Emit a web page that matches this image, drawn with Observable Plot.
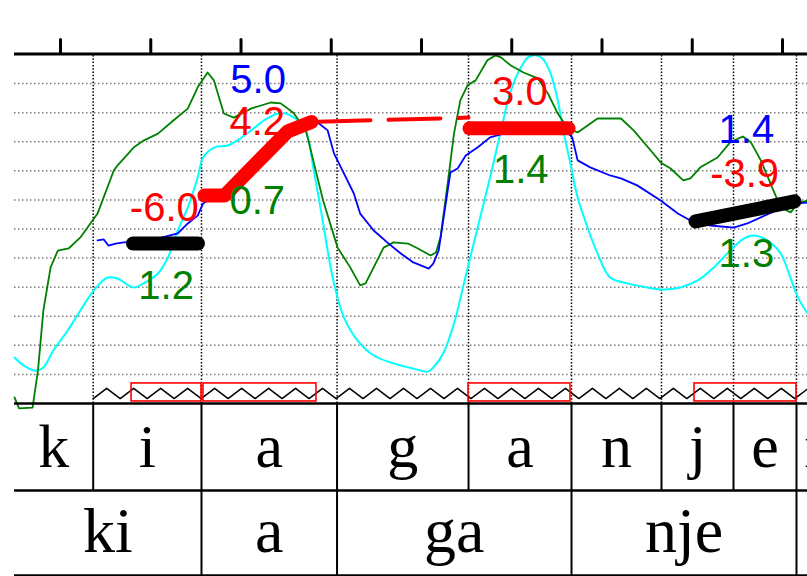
<!DOCTYPE html>
<html>
<head>
<meta charset="utf-8">
<script src="https://cdn.jsdelivr.net/npm/d3@7"></script>
<script src="https://cdn.jsdelivr.net/npm/@observablehq/plot@0.6"></script>
<style>
  html, body { margin: 0; padding: 0; background: #fff; }
  #chart svg { display: block; }
</style>
</head>
<body>
<div id="chart"></div>
<script>
// ---------- DATA (time in seconds, pitch on a 0–12 grid scale) ----------
const viewWindow = [0.049, 0.9277];
const axisTicks = [0.1, 0.2, 0.3, 0.4, 0.5, 0.6, 0.7, 0.8, 0.9];
const gridLevels = [1, 2, 3, 4, 5, 6, 7, 8, 9, 10, 11];

// segmentation tiers
const phoneLabels = ["k", "i", "a", "g", "a", "n", "j", "e", "n"];
const phoneBounds = [0.049, 0.1362, 0.2562, 0.4064, 0.5521, 0.6662, 0.7659, 0.8457, 0.9155, 0.967];
const syllableLabels = ["ki", "a", "ga", "nje"];
const syllableBounds = [0.049, 0.2562, 0.4064, 0.6662, 0.9155];

// curves [time, value]
const curveBlue = [
  [0.141,5.61],[0.148,5.64],[0.153,5.43],[0.161,5.50],[0.170,5.54],[0.200,5.61],[0.230,5.85],[0.241,6.19],
  [0.252,6.46],[0.258,6.88],[0.272,7.15],[0.288,7.39],[0.311,8.18],[0.333,8.87],[0.355,9.39],[0.371,9.59],
  [0.385,9.66],[0.396,9.39],[0.403,8.60],[0.414,7.91],[0.425,7.22],[0.432,6.53],[0.447,5.95],[0.462,5.54],
  [0.477,5.16],[0.491,4.85],[0.508,4.64],[0.513,4.81],[0.519,5.26],[0.529,7.32],[0.532,7.94],[0.540,8.08],
  [0.549,8.53],[0.562,8.80],[0.576,9.15],[0.599,9.35],[0.632,9.46],[0.659,9.39],[0.667,9.15],[0.673,8.36],
  [0.687,8.12],[0.709,7.84],[0.721,7.74],[0.739,7.50],[0.765,6.98],[0.784,6.53],[0.798,6.29],[0.820,6.12],
  [0.846,6.05],[0.861,6.19],[0.876,6.40],[0.898,6.71],[0.917,6.88],[0.928,6.91]
];
const curveGreen = [
  [0.049,0.21],[0.054,-0.17],[0.069,-0.14],[0.075,1.13],[0.081,3.20],[0.089,4.68],[0.097,5.26],[0.109,5.33],
  [0.122,5.71],[0.141,6.53],[0.159,8.01],[0.163,8.18],[0.181,8.80],[0.192,9.04],[0.208,9.28],[0.225,9.73],
  [0.241,10.14],[0.252,10.87],[0.263,11.38],[0.270,11.11],[0.281,9.97],[0.292,9.83],[0.311,10.14],[0.333,10.35],
  [0.344,10.32],[0.358,10.00],[0.372,9.39],[0.380,8.36],[0.391,6.98],[0.407,5.36],[0.421,4.68],[0.432,4.06],
  [0.438,4.13],[0.447,4.68],[0.458,5.36],[0.469,5.54],[0.485,5.50],[0.496,5.33],[0.510,5.09],[0.516,5.19],
  [0.521,5.71],[0.529,7.57],[0.536,9.28],[0.543,10.42],[0.551,10.94],[0.560,11.11],[0.573,11.80],[0.582,11.97],
  [0.588,11.90],[0.599,11.62],[0.613,11.38],[0.629,11.18],[0.640,10.66],[0.651,9.97],[0.662,9.46],[0.673,9.32],
  [0.684,9.56],[0.695,9.80],[0.721,9.80],[0.735,9.39],[0.754,8.70],[0.765,8.29],[0.776,8.08],[0.790,7.67],
  [0.798,7.74],[0.809,8.12],[0.828,8.46],[0.842,8.98],[0.856,9.18],[0.865,8.98],[0.876,8.36],[0.890,7.32],
  [0.898,6.74],[0.909,6.57],[0.917,6.88],[0.928,6.98]
];
const curveCyan = [
  [0.049,1.58],[0.059,1.31],[0.072,1.13],[0.081,1.24],[0.092,1.82],[0.108,2.51],[0.122,3.20],[0.137,3.89],
  [0.152,4.33],[0.163,4.30],[0.181,3.99],[0.192,4.13],[0.208,4.47],[0.219,5.02],[0.230,5.95],[0.241,6.74],
  [0.252,7.77],[0.258,8.46],[0.270,8.80],[0.285,8.87],[0.299,9.11],[0.314,9.46],[0.329,9.80],[0.344,10.00],
  [0.355,9.90],[0.366,9.63],[0.374,9.15],[0.380,8.12],[0.388,6.74],[0.396,5.26],[0.403,4.13],[0.414,2.96],
  [0.429,2.17],[0.447,1.65],[0.469,1.38],[0.491,1.20],[0.507,1.10],[0.513,1.24],[0.524,1.72],[0.536,2.75],
  [0.547,4.13],[0.554,5.02],[0.565,6.40],[0.576,7.77],[0.588,9.39],[0.599,10.76],[0.610,11.55],[0.618,11.90],
  [0.626,11.97],[0.634,11.86],[0.643,11.35],[0.651,10.42],[0.657,9.39],[0.665,8.25],[0.673,7.08],[0.684,6.05],
  [0.695,5.16],[0.709,4.33],[0.728,4.13],[0.750,3.99],[0.768,3.92],[0.787,3.99],[0.806,4.23],[0.824,4.68],
  [0.842,5.26],[0.857,5.67],[0.868,5.78],[0.883,5.61],[0.898,5.16],[0.906,4.57],[0.917,3.65],[0.928,3.09]
];

// pitch targets (thick segments) and the interpolation between them
const targetSpans = [[0.1787, 0.2562], [0.2584, 0.3836], [0.5521, 0.6651], [0.8025, 0.9155]];
const targetKinds = ["black", "red", "red", "black"];
const targetLines = [
  [[0.1803, 5.50], [0.2523, 5.50]],
  [[0.2595, 7.15], [0.2817, 7.15], [0.3515, 9.35], [0.3781, 9.68]],
  [[0.5532, 9.46], [0.6629, 9.46]],
  [[0.8036, 6.26], [0.9133, 6.95]]
];
const targetBridge = [[0.3781, 9.68], [0.5521, 9.83]];

// numeric annotations
const labelTexts  = ["5.0", "4.2", "0.7", "-6.0", "1.2", "3.0", "1.4", "1.4", "-3.9", "1.3"];
const labelSeries = ["blue", "red", "green", "red", "green", "red", "green", "blue", "red", "green"];
const labelTimes  = [0.319, 0.318, 0.318, 0.215, 0.217, 0.609, 0.610, 0.860, 0.858, 0.860];
const labelValues = [10.69, 9.22, 6.53, 6.29, 3.61, 10.25, 7.57, 8.94, 7.43, 4.68];

// ---------- STYLE / LAYOUT ----------
const palette = {blue: "#0000ff", green: "#008000", cyan: "#00ffff", red: "#ff0000", black: "#000000"};
const TOP = 12.02;              // top frame line
const TIER1_BOTTOM = -2.99, TIER2_BOTTOM = -5.91;
const TIER1_BASE = -2.17, TIER2_BASE = -5.12;
const ZIG_LO = 0.17, ZIG_HI = 0.52, BOX_LO = 0.07, BOX_HI = 0.69;
const zigPeriod = 0.0299;

const toPts = arr => arr.map(([t, v]) => ({t, v}));
const mids = (bounds, labels) => labels.map((l, i) => ({label: l, t: (bounds[i] + bounds[i + 1]) / 2}));

const zig = d3.range(0, 54).map(i => ({t: phoneBounds[1] + i * zigPeriod / 2, v: i % 2 ? ZIG_HI : ZIG_LO}));
const labels = labelTexts.map((text, i) => ({text, s: labelSeries[i], t: labelTimes[i], v: labelValues[i]}));
const targets = targetLines.map((pts, i) => ({kind: targetKinds[i], pts: toPts(pts)}));

const sans = "Liberation Sans, Arial, Helvetica, sans-serif";
const serif = "Liberation Serif, Times New Roman, Times, serif";

const marks = [
  // grid
  Plot.ruleY(gridLevels, {x1: viewWindow[0], x2: viewWindow[1], stroke: "#7a7a7a", strokeWidth: 1.5, strokeDasharray: "1.5,2.5"}),
  Plot.ruleX(phoneBounds.slice(1, 9), {y1: 0, y2: TOP, stroke: "#000", strokeWidth: 1.5, strokeDasharray: "1.5,1.8"}),
  // zigzag + target boxes
  Plot.line(zig, {x: "t", y: "v", stroke: "#000", strokeWidth: 1.5}),
  Plot.rect(targetSpans, {x1: d => d[0], x2: d => d[1], y1: BOX_LO, y2: BOX_HI, fill: "none", stroke: palette.red, strokeWidth: 1.6}),
  // curves
  Plot.line(toPts(curveCyan), {x: "t", y: "v", stroke: palette.cyan, strokeWidth: 2, curve: "catmull-rom"}),
  Plot.line(toPts(curveGreen), {x: "t", y: "v", stroke: palette.green, strokeWidth: 1.8}),
  Plot.line(toPts(curveBlue), {x: "t", y: "v", stroke: palette.blue, strokeWidth: 1.8}),
  // bridge between targets
  Plot.line(toPts(targetBridge), {x: "t", y: "v", stroke: palette.red, strokeWidth: 4, strokeDasharray: "52,18", strokeDashoffset: 63}),
  // targets
  ...targets.map(d => Plot.line(d.pts, {x: "t", y: "v", stroke: palette[d.kind], strokeWidth: 14, strokeLinecap: "round", strokeLinejoin: "round"})),
  // annotations
  Plot.text(labels, {x: "t", y: "v", text: "text", fill: d => palette[d.s], fontSize: 40, fontFamily: sans, lineAnchor: "bottom", textAnchor: "middle"}),
  // frame: top axis with ticks
  Plot.ruleY([TOP], {x1: viewWindow[0], x2: viewWindow[1], stroke: "#000", strokeWidth: 3}),
  Plot.ruleX(axisTicks, {y1: TOP, y2: 12.5, stroke: "#000", strokeWidth: 3, strokeLinecap: "round"}),
  // tiers
  Plot.ruleY([0, TIER1_BOTTOM, TIER2_BOTTOM], {x1: viewWindow[0], x2: viewWindow[1], stroke: "#000", strokeWidth: 2.5}),
  Plot.ruleX(phoneBounds.slice(1), {y1: 0, y2: TIER1_BOTTOM, stroke: "#000", strokeWidth: 2}),
  Plot.ruleX(syllableBounds.slice(1), {y1: TIER1_BOTTOM, y2: TIER2_BOTTOM, stroke: "#000", strokeWidth: 2}),
  Plot.text(mids(phoneBounds, phoneLabels), {x: "t", y: TIER1_BASE, text: "label", fontSize: 62, fontFamily: serif, lineAnchor: "bottom", fill: "#000"}),
  Plot.text(mids(syllableBounds, syllableLabels), {x: "t", y: TIER2_BASE, text: "label", fontSize: 64, fontFamily: serif, lineAnchor: "bottom", fill: "#000"})
];

const chart = Plot.plot({
  width: 807,
  height: 576,
  x: {domain: viewWindow, range: [14, 807], axis: null},
  y: {domain: [0, 12], range: [403, 54], axis: null},
  style: {background: "#fff"},
  marks
});
document.getElementById("chart").appendChild(chart);
</script>
</body>
</html>
